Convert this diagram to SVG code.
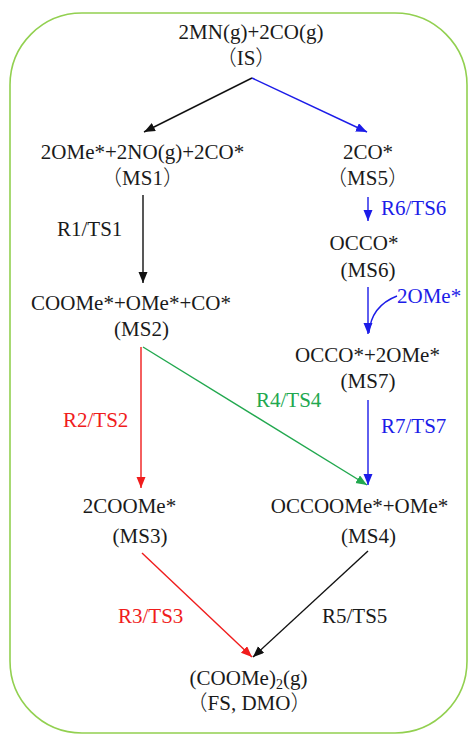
<svg xmlns="http://www.w3.org/2000/svg" width="469" height="736" viewBox="0 0 469 736" font-family="'Liberation Serif', 'Times New Roman', serif">
<style>
text{font-family:'Liberation Serif','Times New Roman',Times,serif;font-size:21px;fill:#1a1a1a}
.cjk{font-family:'Noto Sans CJK SC','Noto Sans CJK JP',sans-serif;font-weight:300}
.m{text-anchor:middle}
.red{fill:#f01c1c}.blue{fill:#1c1ce8}.green{fill:#22a84f}
.c{fill:none;stroke-width:1.4}
.k{stroke:#111}.r{stroke:#f01c1c}.b{stroke:#1c1ce8}.g{stroke:#22a84f}
</style>
<defs>
<marker id="ak" markerUnits="userSpaceOnUse" markerWidth="12" markerHeight="10" refX="11" refY="4.5" orient="auto"><path d="M0,0 L11,4.5 L0,9 z" fill="#111"/></marker>
<marker id="ar" markerUnits="userSpaceOnUse" markerWidth="12" markerHeight="10" refX="11" refY="4.5" orient="auto"><path d="M0,0 L11,4.5 L0,9 z" fill="#f01c1c"/></marker>
<marker id="ab" markerUnits="userSpaceOnUse" markerWidth="12" markerHeight="10" refX="11" refY="4.5" orient="auto"><path d="M0,0 L11,4.5 L0,9 z" fill="#1c1ce8"/></marker>
<marker id="ag" markerUnits="userSpaceOnUse" markerWidth="12" markerHeight="10" refX="11" refY="4.5" orient="auto"><path d="M0,0 L11,4.5 L0,9 z" fill="#22a84f"/></marker>
</defs>
<rect x="0" y="0" width="469" height="736" fill="#fff"/>
<rect id="frame" x="10" y="13" width="457" height="720" rx="72" ry="72" fill="none" stroke="#92d050" stroke-width="1.6"/>
<g id="connectors">
<line class="c k" x1="252" y1="78" x2="144" y2="132" marker-end="url(#ak)"/>
<line class="c b" x1="252" y1="78" x2="367" y2="132" marker-end="url(#ab)"/>
<line class="c k" x1="143" y1="195" x2="143" y2="283" marker-end="url(#ak)"/>
<line class="c b" x1="368" y1="197" x2="368" y2="221" marker-end="url(#ab)"/>
<line class="c b" x1="368" y1="287" x2="368" y2="334" marker-end="url(#ab)"/>
<path class="c b" d="M397,296 Q371,306 369,333"/>
<line class="c r" x1="141" y1="347" x2="141" y2="488" marker-end="url(#ar)"/>
<line class="c g" x1="143" y1="347" x2="367" y2="485" marker-end="url(#ag)"/>
<line class="c b" x1="368" y1="400" x2="368" y2="485" marker-end="url(#ab)"/>
<line class="c r" x1="142" y1="553" x2="252" y2="657" marker-end="url(#ar)"/>
<line class="c k" x1="368" y1="551" x2="253" y2="657" marker-end="url(#ak)"/>
</g>
<g id="IS"><text class="m" x="251" y="39">2MN(g)+2CO(g)</text><text class="m" x="246" y="65"><tspan class="cjk">（</tspan>IS<tspan class="cjk">）</tspan></text></g>
<g id="MS1"><text class="m" x="142.5" y="159">2OMe*+2NO(g)+2CO*</text><text class="m" x="142.5" y="185"><tspan class="cjk">（</tspan>MS1<tspan class="cjk">）</tspan></text></g>
<g id="MS5"><text class="m" x="368" y="159">2CO*</text><text class="m" x="367.5" y="185"><tspan class="cjk">（</tspan>MS5<tspan class="cjk">）</tspan></text></g>
<g id="MS6"><text class="m" x="364" y="250">OCCO*</text><text class="m" x="368" y="277">(MS6)</text></g>
<g id="MS2"><text class="m" x="131" y="310">COOMe*+OMe*+CO*</text><text class="m" x="141.5" y="336">(MS2)</text></g>
<g id="MS7"><text class="m" x="367.5" y="362">OCCO*+2OMe*</text><text class="m" x="368" y="388">(MS7)</text></g>
<g id="MS3"><text class="m" x="129.5" y="513">2COOMe*</text><text class="m" x="140" y="543">(MS3)</text></g>
<g id="MS4"><text class="m" x="359.5" y="513">OCCOOMe*+OMe*</text><text class="m" x="368.5" y="543">(MS4)</text></g>
<g id="FS"><text class="m" x="248.5" y="685">(COOMe)<tspan font-size="14" baseline-shift="-4">2</tspan>(g)</text><text class="m" x="249" y="710"><tspan class="cjk">（</tspan>FS, DMO<tspan class="cjk">）</tspan></text></g>
<g id="labels">
<text x="57" y="236">R1/TS1</text>
<text class="blue" x="381" y="215">R6/TS6</text>
<text class="blue" x="397" y="303">2OMe*</text>
<text class="green" x="256" y="407">R4/TS4</text>
<text class="red" x="63" y="427">R2/TS2</text>
<text class="blue" x="381" y="433">R7/TS7</text>
<text class="red" x="118" y="623">R3/TS3</text>
<text x="322" y="623">R5/TS5</text>
</g>
</svg>
